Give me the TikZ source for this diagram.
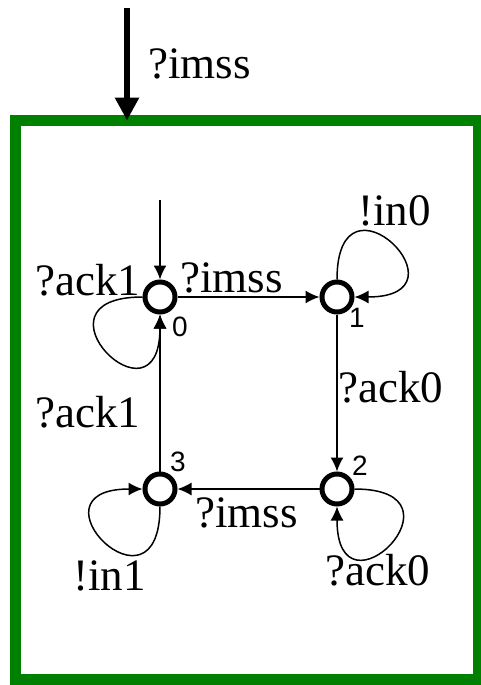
\documentclass[tikz,border=0pt]{standalone}
\usepackage{fontspec}
\setmainfont{Liberation Serif}
\newfontfamily\numfont{Liberation Sans}
\usetikzlibrary{arrows.meta}
\definecolor{boxgreen}{RGB}{0,128,0}
\tikzset{
  state/.style={circle,draw,line width=2.5pt,minimum size=15pt,inner sep=0pt},
  num/.style={font=\numfont\fontsize{14}{14}\selectfont,inner sep=0pt},
  lbl/.style={font=\fontsize{22.5}{24}\selectfont,inner sep=0pt,anchor=base west},
  trans/.style={line width=0.75pt,-{Latex[length=7pt,width=6.5pt]}},
}
\begin{document}
\begin{tikzpicture}[x=0.5pt,y=0.5pt]
      \useasboundingbox (0,0) rectangle (481,-685);
      \node[draw=boxgreen,line width=5.5pt,minimum width=231.5pt,minimum height=279.5pt,
        inner sep=0pt,outer sep=0pt] (frame) at (247,-400) {};
      \coordinate (src) at (127,-8);
      \draw[line width=3.25pt,-{Triangle[length=11.5pt,width=11.5pt]}] (src) -- (src |- frame.north);
      \node[lbl] (tin) at (148,-78) {?imss};
      \node[state] (s0) at (160,-297) {};
      \node[state] (s1) at (337,-297) {};
      \node[state] (s2) at (337,-489) {};
      \node[state] (s3) at (160,-489) {};
      \node[num] (n0) at (180,-327) {0};
      \node[num] (n1) at (357,-318) {1};
      \node[num] (n2) at (360,-466) {2};
      \node[num] (n3) at (178,-462) {3};
      \coordinate (init) at (160,-200);
      \begin{scope}[trans]
        \draw (init) -- (s0);
        \draw (s0) -- (s1);
        \draw (s1) -- (s2);
        \draw (s2) -- (s3);
        \draw (s3) -- (s0);
        \draw (s0) to[out=180,in=-90,distance=60pt] (s0);
        \draw (s1) to[out=90,in=0,distance=60pt] (s1);
        \draw (s2) to[out=0,in=-90,distance=60pt] (s2);
        \draw (s3) to[out=-90,in=180,distance=60pt] (s3);
      \end{scope}
      \node[lbl] (l00) at (35,-295) {?ack1};
      \node[lbl] (l01) at (180,-292) {?imss};
      \node[lbl] (l11) at (358,-225) {!in0};
      \node[lbl] (l12) at (338,-402) {?ack0};
      \node[lbl] (l22) at (325,-585) {?ack0};
      \node[lbl] (l23) at (195,-527) {?imss};
      \node[lbl] (l33) at (73,-590) {!in1};
      \node[lbl] (l30) at (35,-427) {?ack1};
    \end{tikzpicture}
\end{document}
